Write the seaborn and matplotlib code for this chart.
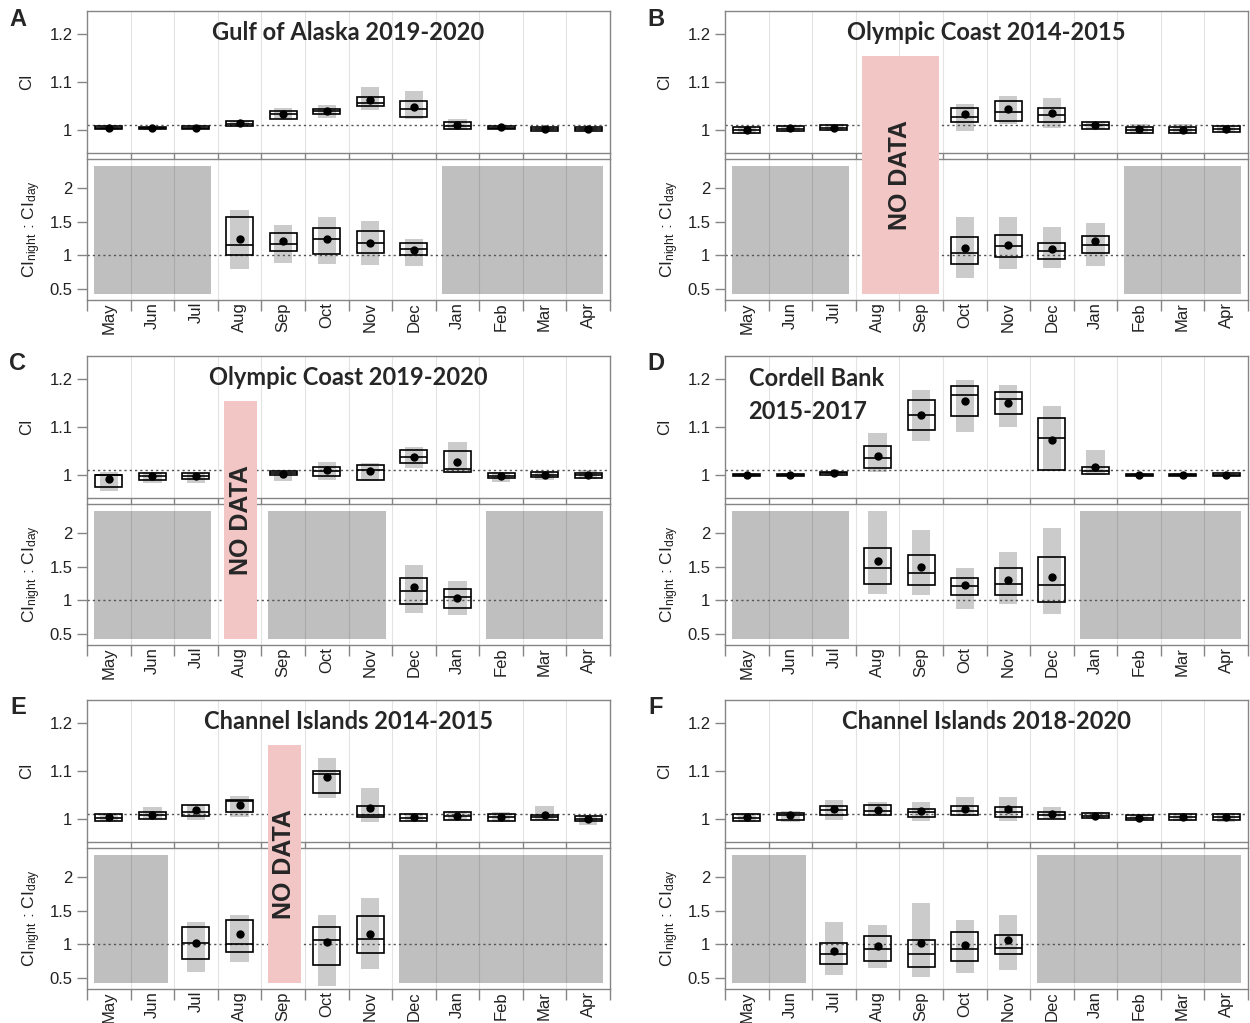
import numpy as np
import pandas as pd
import matplotlib
matplotlib.use("Agg")
import matplotlib.pyplot as plt
from matplotlib.patches import Rectangle
import seaborn as sns

months = ["May", "Jun", "Jul", "Aug", "Sep", "Oct", "Nov", "Dec", "Jan", "Feb", "Mar", "Apr"]
nan = np.nan
NA = (nan, nan, nan, nan, nan, nan)

# each row: (lo, q1, median, q3, hi, mean)
A_title = "Gulf of Alaska 2019-2020"
A_ci = [(1.001, 1.003, 1.005, 1.008, 1.009, 1.005), (1.001, 1.002, 1.004, 1.006, 1.007, 1.004),
        (1.002, 1.003, 1.005, 1.008, 1.010, 1.005), (1.008, 1.009, 1.013, 1.018, 1.019, 1.014),
        (1.023, 1.024, 1.033, 1.040, 1.047, 1.034), (1.025, 1.033, 1.040, 1.045, 1.053, 1.040),
        (1.042, 1.051, 1.057, 1.069, 1.089, 1.062), (1.023, 1.027, 1.044, 1.061, 1.082, 1.048),
        (1.001, 1.003, 1.008, 1.016, 1.023, 1.010), (1.002, 1.002, 1.005, 1.008, 1.009, 1.006),
        (0.999, 0.999, 1.002, 1.006, 1.006, 1.003), (0.999, 0.999, 1.002, 1.006, 1.006, 1.003)]
A_ratio = {"Aug": (0.79, 1.0, 1.155, 1.565, 1.68, 1.245), "Sep": (0.885, 1.065, 1.165, 1.33, 1.445, 1.22),
           "Oct": (0.875, 1.025, 1.24, 1.41, 1.565, 1.24), "Nov": (0.855, 1.035, 1.185, 1.36, 1.515, 1.185),
           "Dec": (0.835, 1.0, 1.09, 1.18, 1.25, 1.085)}
A_grey = [("May", "Jul"), ("Jan", "Apr")]
A_nodata = None

B_title = "Olympic Coast 2014-2015"
B_ci = [(0.992, 0.994, 1.000, 1.007, 1.009, 1.000), (0.995, 0.997, 1.003, 1.008, 1.010, 1.004),
        (0.998, 1.000, 1.005, 1.011, 1.012, 1.005), NA, NA,
        (0.999, 1.016, 1.028, 1.046, 1.054, 1.033), (1.013, 1.019, 1.037, 1.060, 1.071, 1.043),
        (1.005, 1.017, 1.032, 1.046, 1.068, 1.035), (1.002, 1.003, 1.010, 1.016, 1.017, 1.011),
        (0.992, 0.994, 1.001, 1.006, 1.012, 1.003), (0.991, 0.993, 1.000, 1.006, 1.012, 1.001),
        (0.995, 0.996, 1.003, 1.008, 1.010, 1.003)]
B_ratio = {"Oct": (0.665, 0.865, 1.04, 1.27, 1.575, 1.105), "Nov": (0.79, 0.97, 1.14, 1.31, 1.565, 1.155),
           "Dec": (0.81, 0.945, 1.06, 1.185, 1.415, 1.095), "Jan": (0.845, 1.03, 1.16, 1.285, 1.475, 1.21)}
B_grey = [("May", "Jul"), ("Feb", "Apr")]
B_nodata = ("Aug", "Sep")

C_title = "Olympic Coast 2019-2020"
C_ci = [(0.967, 0.975, 1.000, 1.001, 1.007, 0.991), (0.984, 0.990, 0.998, 1.004, 1.006, 0.998),
        (0.983, 0.992, 0.999, 1.004, 1.005, 0.999), NA,
        (0.987, 1.001, 1.005, 1.009, 1.011, 1.003), (0.989, 0.999, 1.008, 1.017, 1.028, 1.010),
        (0.987, 0.989, 1.011, 1.020, 1.026, 1.008), (1.014, 1.026, 1.037, 1.052, 1.058, 1.037),
        (1.005, 1.006, 1.013, 1.050, 1.069, 1.027), (0.986, 0.994, 0.999, 1.004, 1.007, 0.999),
        (0.989, 0.996, 1.001, 1.006, 1.008, 1.001), (0.991, 0.994, 1.000, 1.004, 1.010, 1.000)]
C_ratio = {"Dec": (0.805, 0.945, 1.135, 1.34, 1.53, 1.205), "Jan": (0.775, 0.88, 1.045, 1.17, 1.29, 1.04)}
C_grey = [("May", "Jul"), ("Sep", "Nov"), ("Feb", "Apr")]
C_nodata = ("Aug", "Aug")

D_title = "Cordell Bank\n2015-2017"
D_ci = [(0.996, 0.997, 1.000, 1.003, 1.004, 1.000), (0.997, 0.998, 1.000, 1.003, 1.004, 1.000),
        (0.999, 1.000, 1.004, 1.007, 1.009, 1.004), (1.006, 1.014, 1.035, 1.061, 1.087, 1.040),
        (1.071, 1.094, 1.126, 1.158, 1.178, 1.126), (1.089, 1.123, 1.168, 1.187, 1.198, 1.154),
        (1.101, 1.127, 1.159, 1.173, 1.188, 1.150), (1.009, 1.011, 1.078, 1.120, 1.144, 1.073),
        (1.000, 1.002, 1.008, 1.017, 1.052, 1.016), (0.997, 0.998, 1.000, 1.003, 1.004, 1.000),
        (0.997, 0.998, 1.000, 1.003, 1.004, 1.000), (0.998, 0.999, 1.001, 1.004, 1.005, 1.001)]
D_ratio = {"Aug": (1.1, 1.24, 1.475, 1.775, 2.325, 1.585), "Sep": (1.08, 1.225, 1.4, 1.67, 2.05, 1.5),
           "Oct": (0.865, 1.08, 1.21, 1.335, 1.485, 1.235), "Nov": (0.94, 1.085, 1.25, 1.485, 1.72, 1.3),
           "Dec": (0.8, 0.97, 1.23, 1.65, 2.075, 1.345)}
D_grey = [("May", "Jul"), ("Jan", "Apr")]
D_nodata = None

E_title = "Channel Islands 2014-2015"
E_ci = [(0.995, 0.996, 1.002, 1.010, 1.011, 1.004), (1.000, 1.001, 1.009, 1.014, 1.025, 1.009),
        (0.997, 1.007, 1.015, 1.030, 1.030, 1.018), (1.005, 1.015, 1.037, 1.039, 1.048, 1.030), NA,
        (1.045, 1.054, 1.094, 1.101, 1.127, 1.087), (0.994, 1.004, 1.009, 1.027, 1.065, 1.023),
        (0.995, 0.995, 1.003, 1.011, 1.012, 1.004), (0.997, 0.999, 1.007, 1.015, 1.017, 1.006),
        (0.993, 0.995, 1.004, 1.011, 1.014, 1.004), (0.997, 0.998, 1.004, 1.009, 1.027, 1.008),
        (0.987, 0.996, 1.001, 1.007, 1.008, 1.001)]
E_ratio = {"Jul": (0.59, 0.785, 1.025, 1.255, 1.34, 1.02), "Aug": (0.74, 0.89, 1.01, 1.36, 1.44, 1.16),
           "Oct": (0.375, 0.69, 1.065, 1.265, 1.44, 1.04), "Nov": (0.64, 0.87, 1.08, 1.415, 1.685, 1.16)}
E_grey = [("May", "Jun"), ("Dec", "Apr")]
E_nodata = ("Sep", "Sep")

F_title = "Channel Islands 2018-2020"
F_ci = [(0.994, 0.996, 1.003, 1.011, 1.012, 1.004), (0.993, 0.999, 1.008, 1.013, 1.017, 1.008),
        (0.999, 1.008, 1.018, 1.027, 1.039, 1.020), (1.008, 1.008, 1.017, 1.029, 1.035, 1.018),
        (0.996, 1.005, 1.014, 1.020, 1.036, 1.017), (1.007, 1.008, 1.017, 1.027, 1.047, 1.022),
        (0.996, 1.004, 1.015, 1.025, 1.047, 1.021), (1.000, 1.001, 1.008, 1.014, 1.025, 1.011),
        (1.001, 1.002, 1.007, 1.013, 1.014, 1.006), (0.997, 0.998, 1.002, 1.008, 1.009, 1.002),
        (0.996, 0.999, 1.004, 1.010, 1.011, 1.005), (0.994, 0.999, 1.005, 1.011, 1.013, 1.005)]
F_ratio = {"Jul": (0.54, 0.705, 0.86, 1.015, 1.335, 0.9), "Aug": (0.655, 0.755, 0.925, 1.13, 1.285, 0.975),
           "Sep": (0.52, 0.67, 0.855, 1.06, 1.62, 1.025), "Oct": (0.57, 0.755, 0.93, 1.18, 1.37, 0.99),
           "Nov": (0.615, 0.855, 0.945, 1.14, 1.43, 1.06)}
F_grey = [("May", "Jun"), ("Dec", "Apr")]
F_nodata = None

# styling
sns.set_style("white")
plt.rcParams['font.family'] = ['Liberation Sans', 'DejaVu Sans']
plt.rcParams['mathtext.fontset'] = 'custom'
plt.rcParams['mathtext.rm'] = 'Liberation Sans'
plt.rcParams['mathtext.default'] = 'regular'

range_col = "#cbcbcb"
bg_col = "#bfbfbf"
pink = "#f3c6c6"
spine_col = "#858585"
txt_col = "#222222"
W, H = 1250, 1023

fig = plt.figure(figsize=(W / 100, H / 100), dpi=100)
xs = np.arange(len(months))


def rect(x0, y0, x1, y1):
    return [x0 / W, 1 - y1 / H, (x1 - x0) / W, (y1 - y0) / H]


def draw_stats(ax, rows):
    df = pd.DataFrame(rows, columns=["lo", "q1", "med", "q3", "hi", "mean"])
    df["x"] = xs
    df = df.dropna()
    ax.bar(df["x"], df["hi"] - df["lo"], bottom=df["lo"], width=0.42, color=range_col, linewidth=0, zorder=2)
    ax.bar(df["x"], df["q3"] - df["q1"], bottom=df["q1"], width=0.62, fill=False,
           edgecolor="black", linewidth=1.2, zorder=3)
    ax.hlines(df["med"], df["x"] - 0.31, df["x"] + 0.31, color="black", lw=1.2, zorder=3)
    sns.scatterplot(data=df, x="x", y="mean", ax=ax, color="black", s=36, linewidth=0, zorder=4, legend=False)


def style(ax, ylim, yticks, ylabels, tick_len):
    ax.set_xlim(-0.5, 11.5)
    ax.set_ylim(*ylim)
    for s in ax.spines.values():
        s.set_visible(True)
        s.set_color(spine_col)
        s.set_linewidth(1.0)
    for b in np.arange(0.5, 11, 1):
        ax.axvline(b, color=(0, 0, 0, 0.11), lw=0.8, zorder=1)
    ax.set_yticks(yticks)
    ax.set_yticklabels(ylabels)
    ax.tick_params(axis="y", left=True, length=7.5, width=1, color=spine_col, pad=3,
                   labelsize=12, labelcolor=txt_col)
    ax.set_xticks(np.arange(-0.5, 12, 1))
    ax.set_xticklabels([])
    ax.tick_params(axis="x", which="major", bottom=True, length=tick_len, width=1, color=spine_col)


def panel(letter, title, ci, ratio, grey, nodata, row, col):
    x0 = [87, 725][col]
    tops = [(11, 153, 159, 300), (356, 498, 504, 645), (700, 842, 848, 989)][row]
    ax1 = fig.add_axes(rect(x0, tops[0], x0 + 523, tops[1]))
    ax2 = fig.add_axes(rect(x0, tops[2], x0 + 523, tops[3]))

    # top: CI
    draw_stats(ax1, ci)
    ax1.axhline(1.01, color="#555555", lw=1, ls=(0, (1.6, 2.2)), zorder=2.5)
    style(ax1, (0.952, 1.249), [1.0, 1.1, 1.2], ["1", "1.1", "1.2"], 4.5)
    ax1.set_xlabel("")
    ax1.set_ylabel("CI", fontsize=12, color=txt_col)
    ax1.yaxis.set_label_coords(-0.102, 0.5)

    # bottom: night/day ratio
    rrows = [ratio.get(m, NA) for m in months]
    for g0, g1 in grey:
        a, b = months.index(g0), months.index(g1)
        ax2.add_patch(Rectangle((a - 0.5 + 0.15, 0.425), b - a + 1 - 0.3, 2.33 - 0.425,
                                color=bg_col, linewidth=0, zorder=0.5))
    draw_stats(ax2, rrows)
    ax2.axhline(1.0, color="#555555", lw=1, ls=(0, (1.6, 2.2)), zorder=2.5)
    style(ax2, (0.335, 2.435), [0.5, 1, 1.5, 2], ["0.5", "1", "1.5", "2"], 8)
    ax2.set_xticks(xs, minor=True)
    ax2.set_xticklabels(months, minor=True, rotation=90, fontsize=12, color=txt_col)
    ax2.tick_params(axis="x", which="minor", length=0, pad=1.5)
    ax2.set_xlabel("")
    ax2.set_ylabel(r"CI$_{night}$ : CI$_{day}$", fontsize=12.5, color=txt_col)
    ax2.yaxis.set_label_coords(-0.084, 0.5)

    # titles
    if "\n" in title:
        ax1.text(0.045, 0.725, title, transform=ax1.transAxes, ha="left", va="center",
                 fontsize=17, fontweight="bold", family="Lato", linespacing=1.55)
    else:
        ax1.text(0.5, 0.85, title, transform=ax1.transAxes, ha="center", va="center",
                 fontsize=17, fontweight="bold", family="Lato")

    fig.text((x0 - 69) / W, 1 - (tops[0] + 8) / H, letter, fontsize=17, fontweight="bold",
             ha="center", va="center")

    # NO DATA band across both subplots
    if nodata is not None:
        a, b = months.index(nodata[0]), months.index(nodata[1])
        inv = fig.transFigure.inverted()
        fx0, fy1 = inv.transform(ax1.transData.transform((a - 0.5 + 0.15, 1.155)))
        fx1, fy0 = inv.transform(ax2.transData.transform((b + 0.5 - 0.1, 0.425)))
        fig.add_artist(Rectangle((fx0, fy0), fx1 - fx0, fy1 - fy0, transform=fig.transFigure,
                                 color=pink, linewidth=0, zorder=5))
        tx, ty = inv.transform(ax2.transData.transform(((a + b) / 2 + 0.025, 2.2)))
        fig.text(tx, ty, "NO DATA", rotation=90, ha="center", va="center", fontsize=18,
                 fontweight="bold", zorder=6)


panel("A", A_title, A_ci, A_ratio, A_grey, A_nodata, 0, 0)
panel("B", B_title, B_ci, B_ratio, B_grey, B_nodata, 0, 1)
panel("C", C_title, C_ci, C_ratio, C_grey, C_nodata, 1, 0)
panel("D", D_title, D_ci, D_ratio, D_grey, D_nodata, 1, 1)
panel("E", E_title, E_ci, E_ratio, E_grey, E_nodata, 2, 0)
panel("F", F_title, F_ci, F_ratio, F_grey, F_nodata, 2, 1)

fig.savefig("out.png", dpi=100)
